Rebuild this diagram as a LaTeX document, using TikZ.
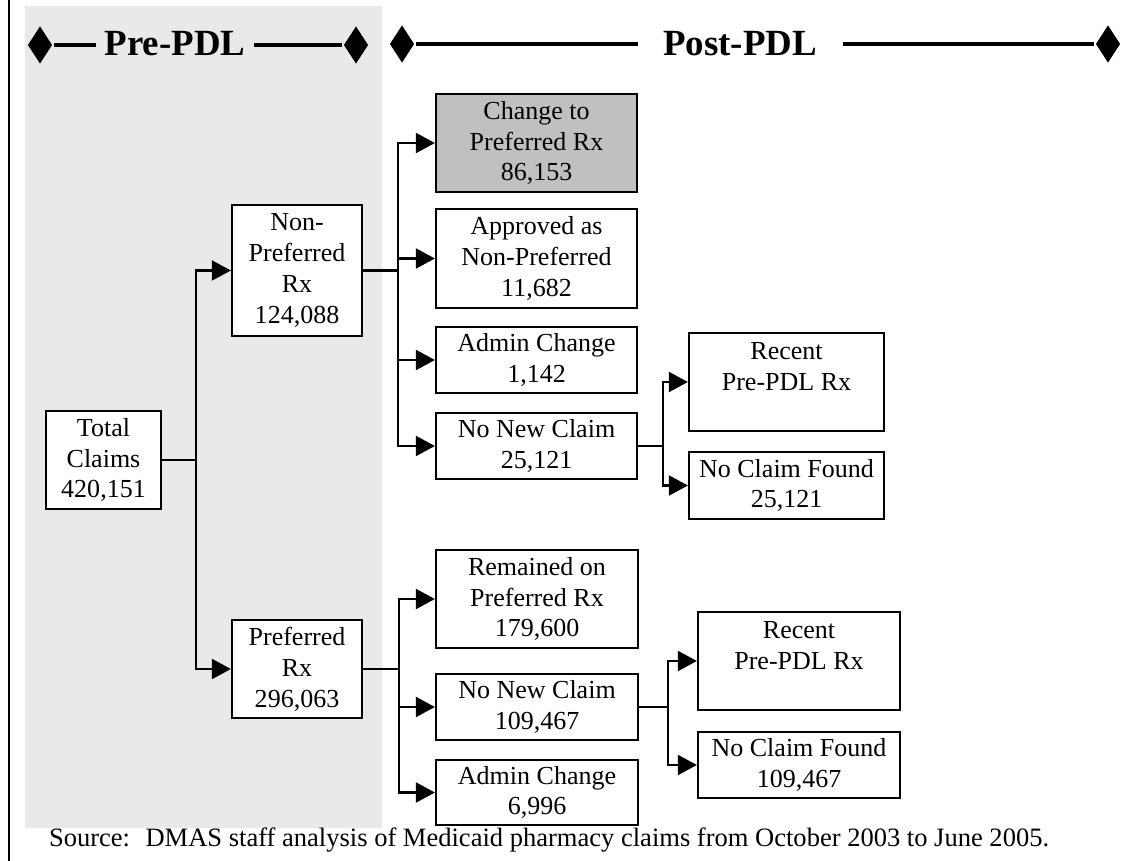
\documentclass[tikz,border=0pt]{standalone}
\usepackage{fontspec}
\setmainfont{Liberation Serif}
\usetikzlibrary{arrows.meta, shapes.geometric}

\definecolor{prebg}{RGB}{233,233,233}
\definecolor{boxgray}{RGB}{192,192,192}
\newcommand{\boxfont}{\fontsize{14.8pt}{17.6pt}\selectfont}
\newcommand{\headfont}{\fontsize{21pt}{24pt}\selectfont\bfseries}

\begin{document}
\begin{tikzpicture}[x=0.02cm,y=-0.02cm,>={Triangle[length=0.38cm,width=0.4cm]},line width=1.2pt,
		claim/.style={draw, fill=white, line width=1.3pt, align=center, inner sep=0pt, font=\boxfont},
		gem/.style={diamond, fill=black, inner sep=0pt, minimum width=0.5cm, minimum height=0.76cm},
		bar/.style={line width=1.9pt},
		title/.style={anchor=base, font=\headfont, inner ysep=0pt}]
			\useasboundingbox (0,0) rectangle (1139,861);
			\fill[prebg] (25,6) rectangle (382,828);
			\draw[line width=1.2pt] (9,0) -- (9,861);

			% phase headers
			\node[gem] (preL) at (40,45) {};
			\node[gem] (preR) at (356,45) {};
			\node[title, inner xsep=4.5pt] (pre) at (175,56) {Pre-PDL};
			\draw[bar] (preL) -- (preL -| pre.west);
			\draw[bar] (pre.east |- preR) -- (preR);
			\node[gem] (postL) at (402,44) {};
			\node[gem] (postR) at (1108,44) {};
			\node[title, inner xsep=14pt] (post) at (740,56) {Post-PDL};
			\draw[bar] (postL) -- (postL -| post.west);
			\draw[bar] (post.east |- postR) -- (postR);

			% claim boxes
			\node[claim, minimum width=2.30cm, minimum height=1.96cm] (total) at (103.5,460) {Total\\Claims\\420,151};
			\node[claim, minimum width=2.60cm, minimum height=2.62cm] (nonpref) at (297,270.5) {Non-\\Preferred\\Rx\\124,088};
			\node[claim, minimum width=2.60cm, minimum height=1.96cm] (pref) at (297,669) {Preferred\\Rx\\296,063};

			\node[claim, fill=boxgray, minimum width=4.02cm, minimum height=1.96cm] (change) at (536.5,143) {Change to\\Preferred Rx\\86,153};
			\node[claim, minimum width=4.02cm, minimum height=1.98cm] (approved) at (536.5,258.5) {Approved as\\Non-Preferred\\11,682};
			\node[claim, minimum width=4.02cm, minimum height=1.32cm] (adminA) at (536.5,360) {Admin Change\\1,142};
			\node[claim, minimum width=4.02cm, minimum height=1.32cm] (nonewA) at (536.5,446) {No New Claim\\25,121};
			\node[claim, minimum width=3.90cm, minimum height=1.96cm] (recentA) at (786.5,382) {Recent\\Pre-PDL Rx\\\mbox{}};
			\node[claim, minimum width=3.90cm, minimum height=1.34cm] (foundA) at (786.5,485.5) {No Claim Found\\25,121};

			\node[claim, minimum width=4.04cm, minimum height=1.96cm] (remained) at (537,599) {Remained on\\Preferred Rx\\179,600};
			\node[claim, minimum width=4.04cm, minimum height=1.32cm] (nonewB) at (537,707) {No New Claim\\109,467};
			\node[claim, minimum width=4.04cm, minimum height=1.30cm] (adminB) at (537,792.5) {Admin Change\\6,996};
			\node[claim, minimum width=4.04cm, minimum height=1.96cm] (recentB) at (799,661) {Recent\\Pre-PDL Rx\\\mbox{}};
			\node[claim, minimum width=4.04cm, minimum height=1.32cm] (foundB) at (799,765) {No Claim Found\\109,467};

			% branch points
			\coordinate (j1) at (196,460);
			\coordinate (j2) at (398,270.5);
			\coordinate (j3) at (663,446);
			\coordinate (j4) at (399,669);
			\coordinate (j5) at (668,707);

			\foreach \n in {nonpref,pref}
				\draw[->] (total.east) -- (j1) |- (\n.west);
			\foreach \n in {change,approved,adminA,nonewA}
				\draw[->] (nonpref.east) -- (j2) |- (\n.west);
			\foreach \n in {recentA,foundA}
				\draw[->] (nonewA.east) -- (j3) |- (\n.west);
			\foreach \n in {remained,nonewB,adminB}
				\draw[->] (pref.east) -- (j4) |- (\n.west);
			\foreach \n in {recentB,foundB}
				\draw[->] (nonewB.east) -- (j5) |- (\n.west);

			\node[anchor=base west, font=\fontsize{15.1pt}{18pt}\selectfont, inner sep=0pt] (source) at (48,846) {Source:~ DMAS staff analysis of Medicaid pharmacy claims from October 2003 to June 2005.};
		\end{tikzpicture}
\end{document}
